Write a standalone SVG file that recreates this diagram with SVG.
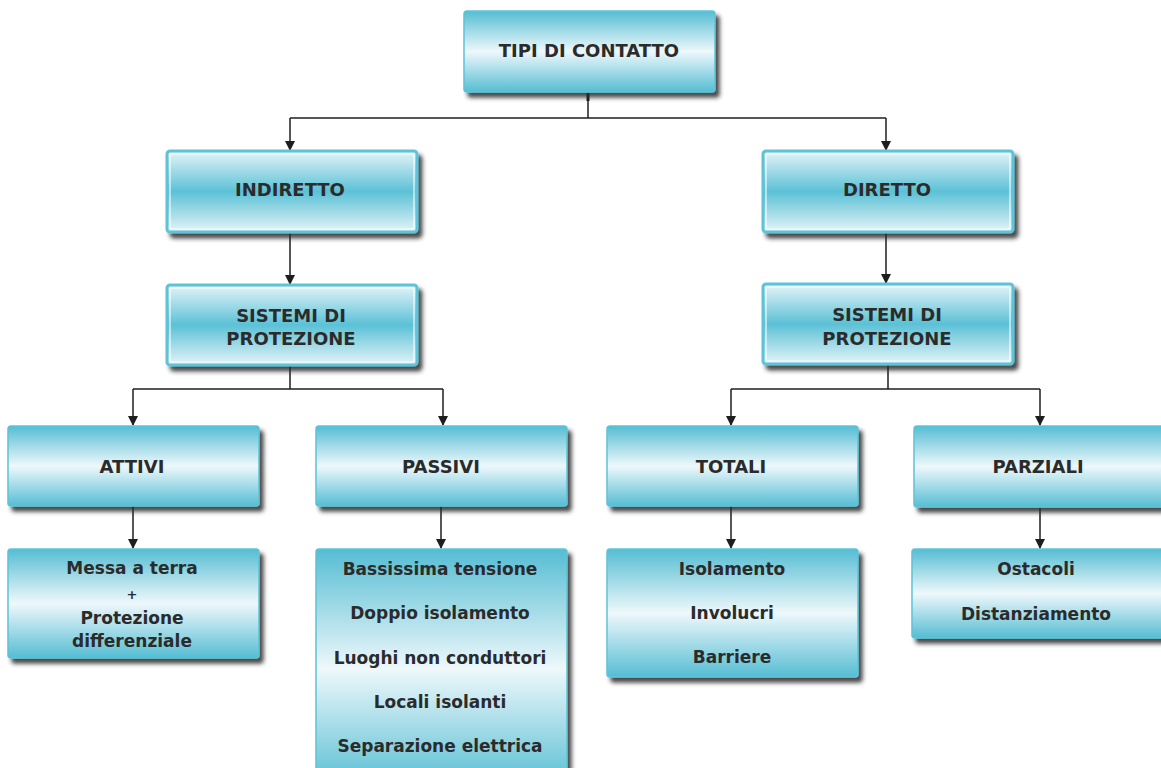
<svg xmlns="http://www.w3.org/2000/svg" width="1161" height="768" viewBox="0 0 1161 768">
<defs>
<linearGradient id="gA" x1="0" y1="0" x2="0" y2="1">
<stop offset="0" stop-color="#55bdd3"/>
<stop offset="0.5" stop-color="#eef8fb"/>
<stop offset="1" stop-color="#55bdd3"/>
</linearGradient>
<linearGradient id="gB" x1="0" y1="0" x2="0" y2="1">
<stop offset="0" stop-color="#e4f4f8"/>
<stop offset="0.5" stop-color="#5bc1d6"/>
<stop offset="1" stop-color="#e4f4f8"/>
</linearGradient>
<filter id="sh" x="-10%" y="-10%" width="130%" height="140%">
<feDropShadow dx="4" dy="5" stdDeviation="2" flood-color="#2a2a2a" flood-opacity="0.85"/>
</filter>
<marker id="ar" markerWidth="10" markerHeight="12" refX="9" refY="5" orient="auto" markerUnits="userSpaceOnUse">
<path d="M0,0 L10,5 L0,10 z" fill="#1e1e1e"/>
</marker>
<style>
.a{fill:url(#gA);stroke:#5ec3d8;stroke-width:1.5;filter:url(#sh)}
.b{fill:url(#gB);stroke:#5ec3d8;stroke-width:3;filter:url(#sh)}
.in{fill:none;stroke:#ffffff;stroke-width:1.2;opacity:0.9}
.t{font-family:"DejaVu Sans","Liberation Sans",sans-serif;font-weight:bold;font-size:18px;fill:#2b2b2b;text-anchor:middle}
.s{font-family:"DejaVu Sans","Liberation Sans",sans-serif;font-weight:bold;font-size:17px;fill:#2b2b2b;text-anchor:middle}
.c{fill:none;stroke:#1e1e1e;stroke-width:1.5}
.ca{fill:none;stroke:#1e1e1e;stroke-width:1.5;marker-end:url(#ar)}
</style>
</defs>
<rect width="1161" height="768" fill="#ffffff"/>

<g id="connectors">
<path class="c" d="M588,92 V118"/>
<path class="c" d="M588,93 V101" style="stroke-width:3"/>
<path class="c" d="M290,118 H886"/>
<path class="ca" d="M290,118 V150"/>
<path class="ca" d="M886,118 V150"/>
<path class="ca" d="M290,232 V284"/>
<path class="ca" d="M886,232 V283"/>
<path class="c" d="M290,365 V389"/>
<path class="c" d="M133,389 H443"/>
<path class="ca" d="M133,389 V425"/>
<path class="ca" d="M443,389 V425"/>
<path class="c" d="M888,364 V389"/>
<path class="c" d="M731,389 H1040"/>
<path class="ca" d="M731,389 V425"/>
<path class="ca" d="M1040,389 V425"/>
<path class="ca" d="M133,506 V548"/>
<path class="ca" d="M441,506 V548"/>
<path class="ca" d="M731,506 V548"/>
<path class="ca" d="M1040,507 V548"/>
</g>

<g id="n-tipi">
<rect class="a" x="464" y="11" width="251" height="81" rx="3"/>
<text class="t" x="589" y="57">TIPI DI CONTATTO</text>
</g>

<g id="n-indiretto">
<rect class="b" x="167" y="151" width="250" height="81" rx="3"/>
<rect class="in" x="170" y="154" width="244" height="75" rx="2"/>
<text class="t" x="290" y="196">INDIRETTO</text>
</g>

<g id="n-diretto">
<rect class="b" x="763" y="151" width="250" height="81" rx="3"/>
<rect class="in" x="766" y="154" width="244" height="75" rx="2"/>
<text class="t" x="887" y="196">DIRETTO</text>
</g>

<g id="n-sistemi-l">
<rect class="b" x="167" y="285" width="250" height="80" rx="3"/>
<rect class="in" x="170" y="288" width="244" height="74" rx="2"/>
<text class="t" x="291" y="322">SISTEMI DI</text>
<text class="t" x="291" y="345">PROTEZIONE</text>
</g>

<g id="n-sistemi-r">
<rect class="b" x="763" y="284" width="250" height="80" rx="3"/>
<rect class="in" x="766" y="287" width="244" height="74" rx="2"/>
<text class="t" x="887" y="321">SISTEMI DI</text>
<text class="t" x="887" y="345">PROTEZIONE</text>
</g>

<g id="n-attivi">
<rect class="a" x="8" y="426" width="251" height="80" rx="3"/>
<text class="t" x="132" y="473">ATTIVI</text>
</g>

<g id="n-passivi">
<rect class="a" x="316" y="426" width="251" height="80" rx="3"/>
<text class="t" x="441" y="473">PASSIVI</text>
</g>

<g id="n-totali">
<rect class="a" x="607" y="426" width="251" height="80" rx="3"/>
<text class="t" x="731" y="473">TOTALI</text>
</g>

<g id="n-parziali">
<rect class="a" x="914" y="426" width="251" height="81" rx="3"/>
<text class="t" x="1038" y="473">PARZIALI</text>
</g>

<g id="n-attivi-list">
<rect class="a" x="8" y="549" width="251" height="109" rx="3"/>
<text class="s" x="132" y="574">Messa a terra</text>
<text class="s" x="132" y="599" style="font-size:13px">+</text>
<text class="s" x="132" y="624">Protezione</text>
<text class="s" x="132" y="647">differenziale</text>
</g>

<g id="n-passivi-list">
<rect class="a" x="316" y="549" width="251" height="240" rx="3"/>
<text class="s" x="440" y="575">Bassissima tensione</text>
<text class="s" x="440" y="619">Doppio isolamento</text>
<text class="s" x="440" y="664">Luoghi non conduttori</text>
<text class="s" x="440" y="708">Locali isolanti</text>
<text class="s" x="440" y="752">Separazione elettrica</text>
</g>

<g id="n-totali-list">
<rect class="a" x="607" y="549" width="251" height="128" rx="3"/>
<text class="s" x="732" y="575">Isolamento</text>
<text class="s" x="732" y="619">Involucri</text>
<text class="s" x="732" y="663">Barriere</text>
</g>

<g id="n-parziali-list">
<rect class="a" x="912" y="549" width="251" height="89" rx="3"/>
<text class="s" x="1036" y="575">Ostacoli</text>
<text class="s" x="1036" y="620">Distanziamento</text>
</g>
</svg>
